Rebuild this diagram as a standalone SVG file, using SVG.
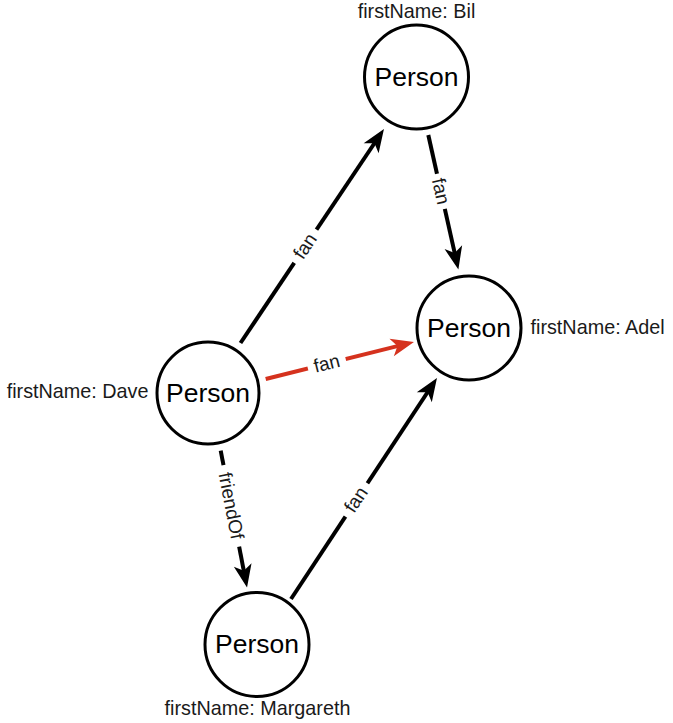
<svg xmlns="http://www.w3.org/2000/svg" width="673" height="723" viewBox="0 0 673 723">
  <defs>
    <style>
      .node { fill: #ffffff; stroke: #000000; stroke-width: 3; }
      .title { font-family: "Liberation Sans", Arial, Helvetica, sans-serif; font-size: 26.5px; fill: #000000; text-anchor: middle; }
      .prop { font-family: "Liberation Sans", Arial, Helvetica, sans-serif; font-size: 19.8px; fill: #1a1a1a; }
      .edge { fill: none; stroke: #000000; stroke-width: 4; stroke-linecap: butt; }
      .edge.hot { stroke: #d5321e; }
      .elabel { font-family: "Liberation Sans", Arial, Helvetica, sans-serif; font-size: 19px; fill: #1a1a1a; text-anchor: middle; }
      .lbg { fill: #ffffff; }
    </style>
    <marker id="arrow" markerUnits="userSpaceOnUse" markerWidth="30" markerHeight="30" refX="0" refY="0" orient="auto" overflow="visible">
      <path d="M15,0 L-8,-9 L-2,0 L-8,9 Z" fill="#000000"/>
    </marker>
    <marker id="arrow-hot" markerUnits="userSpaceOnUse" markerWidth="30" markerHeight="30" refX="0" refY="0" orient="auto" overflow="visible">
      <path d="M15,0 L-8,-9 L-2,0 L-8,9 Z" fill="#d5321e"/>
    </marker>
  </defs>

  <rect width="673" height="723" fill="#ffffff"/>

  <!-- relationships -->
  <g id="connectors">
    <!-- Dave fan Bil -->
    <g id="edge-dave-bil">
      <line class="edge" x1="240.5" y1="343" x2="375.6" y2="141.5" marker-end="url(#arrow)"/>
      <g transform="translate(305,246) rotate(-56.2)">
        <rect class="lbg" x="-20" y="-11" width="40" height="22"/>
        <text class="elabel" x="0" y="6.5">fan</text>
      </g>
    </g>
    <!-- Bil fan Adel -->
    <g id="edge-bil-adel">
      <line class="edge" x1="428.3" y1="135" x2="455.1" y2="254.9" marker-end="url(#arrow)"/>
      <g transform="translate(441,191.3) rotate(77.4)">
        <rect class="lbg" x="-18" y="-11" width="36" height="22"/>
        <text class="elabel" x="0" y="6.5">fan</text>
      </g>
    </g>
    <!-- Dave fan Adel (highlighted) -->
    <g id="edge-dave-adel">
      <line class="edge hot" x1="265.7" y1="379" x2="399.4" y2="345.6" marker-end="url(#arrow-hot)"/>
      <g transform="translate(326.7,363.3) rotate(-14)">
        <rect class="lbg" x="-19.5" y="-11" width="39" height="22"/>
        <text class="elabel" x="0" y="6.5">fan</text>
      </g>
    </g>
    <!-- Dave friendOf Margareth -->
    <g id="edge-dave-margareth">
      <line class="edge" x1="220.7" y1="450.7" x2="244.2" y2="572.8" marker-end="url(#arrow)"/>
      <g transform="translate(231.3,505.8) rotate(79.1)">
        <rect class="lbg" x="-41.5" y="-11" width="83" height="22"/>
        <text class="elabel" x="0" y="6.5">friendOf</text>
      </g>
    </g>
    <!-- Margareth fan Adel -->
    <g id="edge-margareth-adel">
      <line class="edge" x1="291" y1="599" x2="428.7" y2="390.5" marker-end="url(#arrow)"/>
      <g transform="translate(355.8,499.5) rotate(-56.5)">
        <rect class="lbg" x="-20" y="-11" width="40" height="22"/>
        <text class="elabel" x="0" y="6.5">fan</text>
      </g>
    </g>
  </g>

  <!-- people -->
  <g id="node-bil">
    <circle class="node" cx="416.5" cy="77" r="52"/>
    <text class="title" x="416.5" y="85.5">Person</text>
    <text class="prop" x="416.5" y="17.5" text-anchor="middle">firstName: Bil</text>
  </g>

  <g id="node-adel">
    <circle class="node" cx="469" cy="328" r="52"/>
    <text class="title" x="469" y="336.5">Person</text>
    <text class="prop" x="530.5" y="334">firstName: Adel</text>
  </g>

  <g id="node-dave">
    <circle class="node" cx="208" cy="393" r="51"/>
    <text class="title" x="208" y="402">Person</text>
    <text class="prop" x="148.5" y="398.3" text-anchor="end">firstName: Dave</text>
  </g>

  <g id="node-margareth">
    <circle class="node" cx="257" cy="644.5" r="52"/>
    <text class="title" x="257" y="653">Person</text>
    <text class="prop" x="257.5" y="715" text-anchor="middle">firstName: Margareth</text>
  </g>
</svg>
